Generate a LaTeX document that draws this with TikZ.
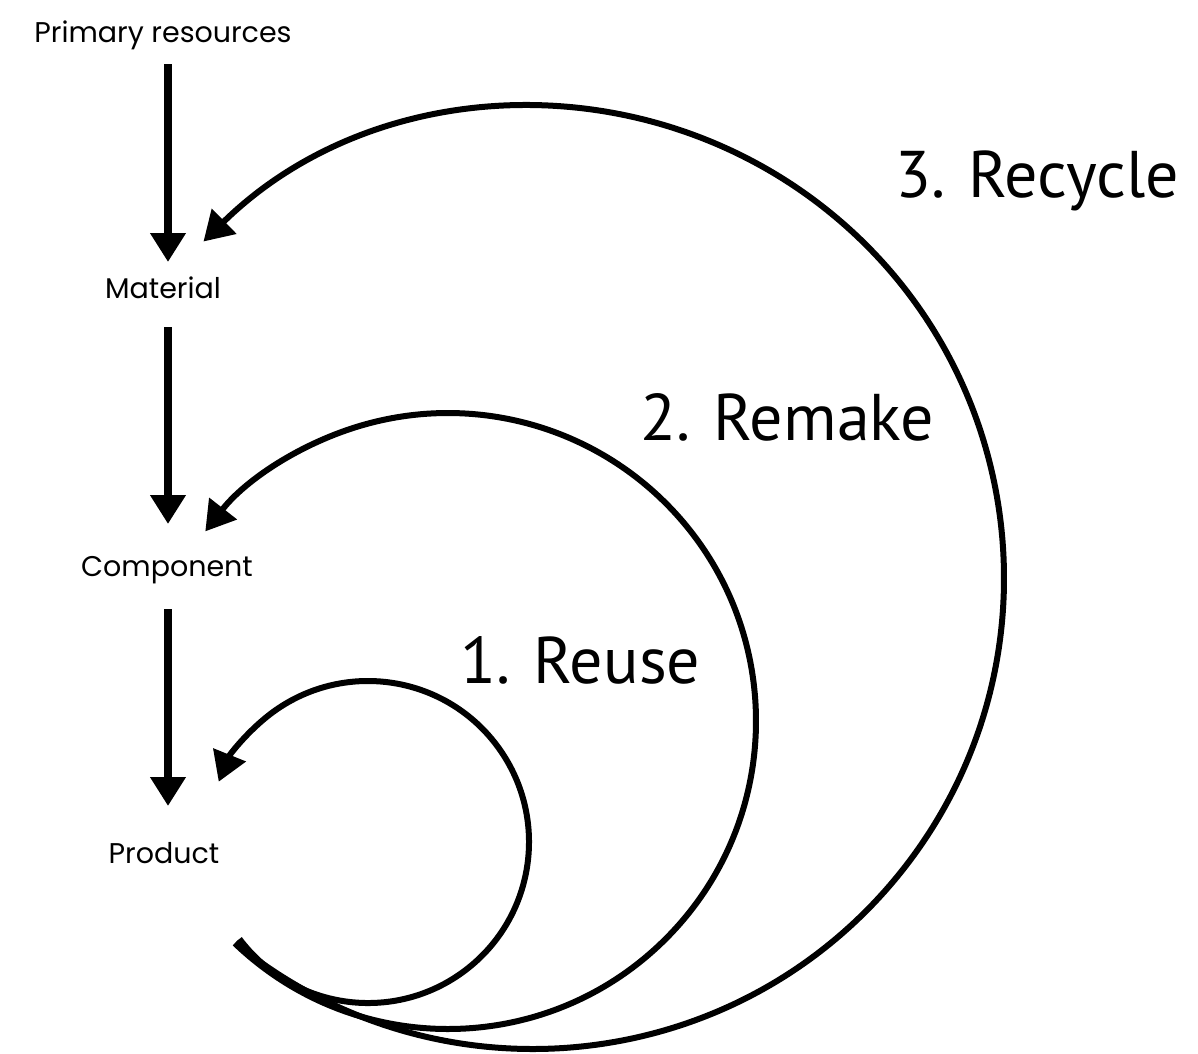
\documentclass[tikz,border=0pt]{standalone}
\usepackage{fontspec}
\setmainfont{Poppins}
\newfontfamily\bigfont{PT Sans}
\usetikzlibrary{arrows.meta}
\tikzset{
  lbl/.style={font=\fontsize{28.5}{32}\selectfont, inner sep=0pt, anchor=base},
  biglbl/.style={font=\bigfont\fontsize{66}{70}\selectfont, inner sep=0pt, anchor=base west},
  flow/.style={line width=8pt, -{Triangle[length=29pt,width=34pt]}},
  loop/.style={line width=6pt, -{Triangle[length=29pt,width=34pt]}, line cap=butt},
}
\begin{document}
\begin{tikzpicture}[x=1pt,y=1pt]
\useasboundingbox (0,0) rectangle (1198,-1053);
\node[lbl] (prim) at (163,-42) {Primary resources};
\node[lbl] (mat) at (163,-298) {Material};
\node[lbl] (comp) at (167,-576) {Component};
\node[lbl] (prod) at (164,-863) {Product};
\coordinate (a1s) at (168,-64);  \coordinate (a1e) at (168,-262);
\coordinate (a2s) at (168,-327); \coordinate (a2e) at (168,-524);
\coordinate (a3s) at (168,-609); \coordinate (a3e) at (168,-806);
\draw[flow] (a1s) -- (a1e);
\draw[flow] (a2s) -- (a2e);
\draw[flow] (a3s) -- (a3e);
% loop centres
\coordinate (c1) at (368,-842);
\coordinate (c2) at (448,-721);
\coordinate (c3) at (533,-578);
% reuse
\draw[loop] (c1) ++(217:161) arc[start angle=217, end angle=518, radius=161];
% remake
\draw[loop] (c2) ++(226.2:308) arc[start angle=226.2, end angle=502, radius=308];
% recycle
\draw[loop] (c3) ++(230.8:471) arc[start angle=230.8, end angle=494.4, radius=471];
\node[biglbl] (rec) at (895,-197) {3. Recycle};
\node[biglbl] (rem) at (640,-440) {2. Remake};
\node[biglbl] (reu) at (460,-683) {1. Reuse};
\end{tikzpicture}
\end{document}
